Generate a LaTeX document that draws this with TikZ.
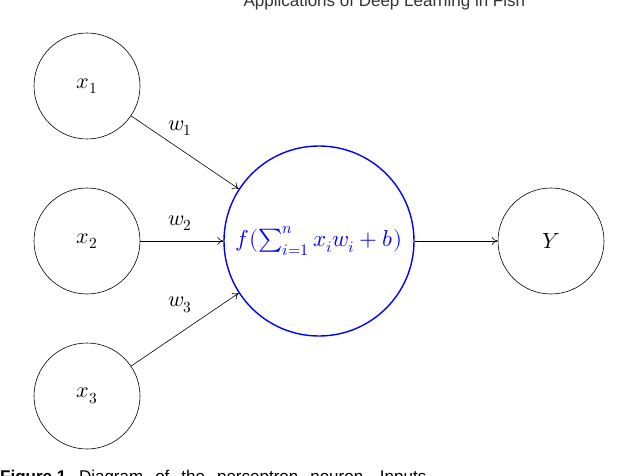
\documentclass[tikz,border=0pt]{standalone}
\usepackage{fontspec}
\usepackage{unicode-math}
\setmathfont{Latin Modern Math}
\usetikzlibrary{arrows.meta}
\newfontfamily\capfont{Liberation Sans}
\begin{document}
\begin{tikzpicture}[x=1pt,y=-1pt,
  neuron/.style={circle,draw,semithick,minimum size=106pt,inner sep=0pt,font=\fontsize{22}{26}\selectfont},
  conn/.style={-{To[length=6pt,width=8pt]},semithick},
  wlab/.style={font=\fontsize{22}{26}\selectfont}]
\useasboundingbox (0,0) rectangle (640,476);
\clip (0,0) rectangle (640,476);
\node[neuron] (x1) at (87,86) {$x_1$};
\node[neuron] (x2) at (87,241) {$x_2$};
\node[neuron] (x3) at (87,396) {$x_3$};
\node[neuron,draw=blue,line width=1.4pt,minimum size=190pt,text=blue,font=\fontsize{23}{26}\selectfont] (f) at (319,241) {$f(\sum_{i=1}^{n} x_i w_i + b)$};
\node[neuron] (y) at (551,241) {$Y$};
\draw[conn] (x1) -- (f.147);
\draw[conn] (x2) -- (f);
\draw[conn] (x3) -- (f.213);
\draw[conn] (f) -- (y);
\node[wlab] (w1) at (180,128) {$w_1$};
\node[wlab] (w2) at (180,223) {$w_2$};
\node[wlab] (w3) at (180,305) {$w_3$};
\node[anchor=base west,font=\capfont\fontsize{17}{20}\selectfont,text=black!80] (hdr) at (240,7) {Applications of Deep Learning in Fish};
\node[anchor=base west,font=\capfont\fontsize{17}{20}\selectfont,inner sep=0pt] (cap) at (0,482) {\textbf{Figure 1.}\hspace{8pt}Diagram\hspace{12pt}of\hspace{12pt}the\hspace{12pt}perceptron\hspace{12pt}neuron.\hspace{12pt}Inputs};
\end{tikzpicture}
\end{document}
